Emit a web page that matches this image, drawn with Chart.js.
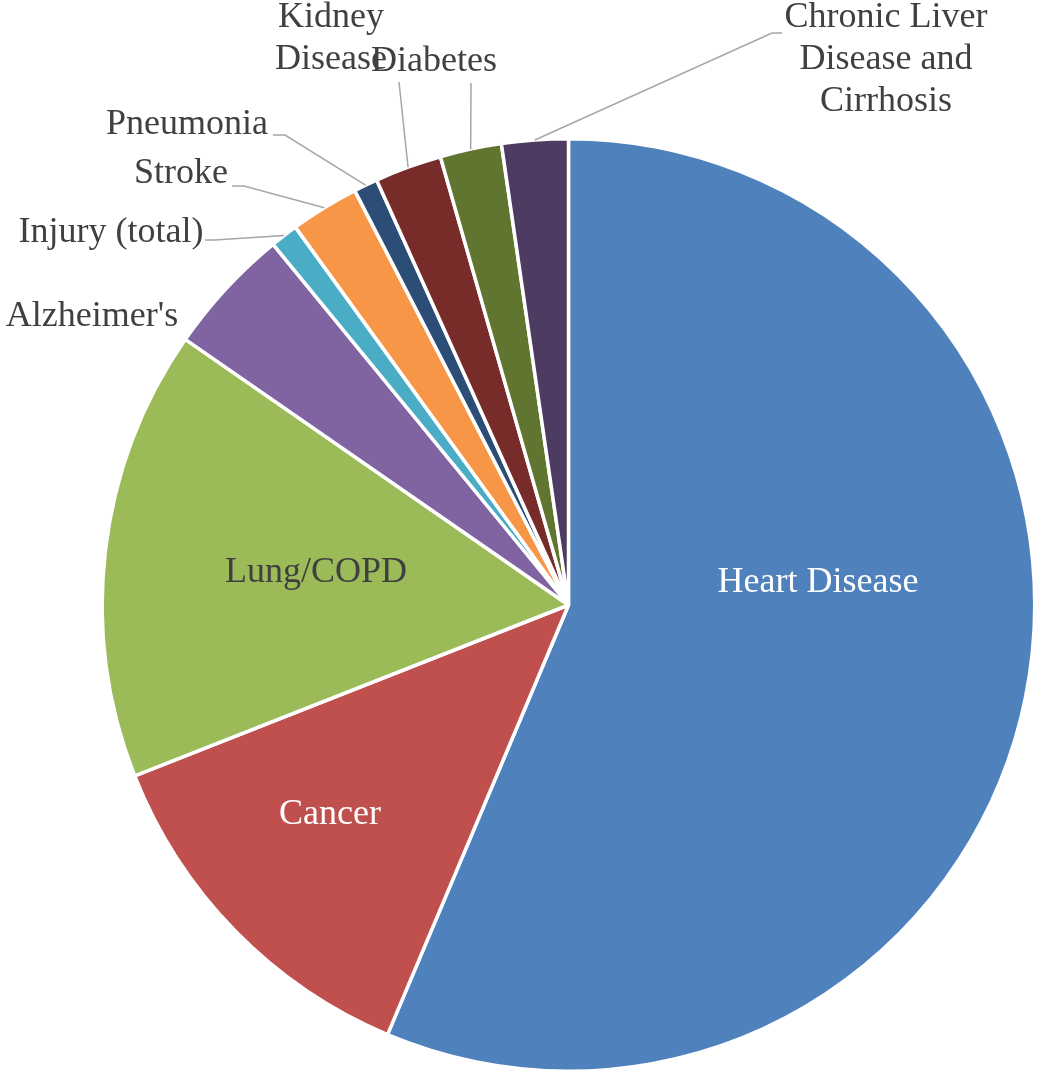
<!DOCTYPE html>
<html>
<head>
<meta charset="utf-8">
<script src="https://cdn.jsdelivr.net/npm/chart.js@4"></script>
<style>
  html, body { margin: 0; padding: 0; background: #ffffff; }
  #wrap { position: relative; width: 1037px; height: 1073px; }
</style>
</head>
<body>
<div id="wrap"><canvas id="pie"></canvas></div>
<script>
// Share of deaths by cause (percent).
const causes = [
    'Heart Disease', 'Cancer', 'Lung/COPD', "Alzheimer's", 'Injury (total)',
    'Stroke', 'Pneumonia', 'Kidney Disease', 'Diabetes', 'Chronic Liver Disease and Cirrhosis'
];
const shares = [56.34, 12.68, 15.62, 4.43, 0.96, 2.38, 0.83, 2.32, 2.13, 2.30];
const sliceColors = [
    '#4F81BD', '#C0504D', '#9BBB59', '#8064A2', '#4BACC6',
    '#F79646', '#2C4D75', '#772C2A', '#5F7530', '#4D3B62'
];

// Label placement (text centre, lines) and optional leader elbow for outside labels.
const labelLayout = [
    { lines: ['Heart Disease'], x: 818, y: 583, color: '#ffffff' },
    { lines: ['Cancer'], x: 330, y: 815, color: '#ffffff' },
    { lines: ['Lung/COPD'], x: 316, y: 573, color: '#404040' },
    { lines: ["Alzheimer's"], x: 92, y: 317, color: '#404040' },
    { lines: ['Injury (total)'], x: 111, y: 233, color: '#404040', elbow: [215, 240], end: 205 },
    { lines: ['Stroke'], x: 181, y: 174, color: '#404040', elbow: [244, 186], end: 232 },
    { lines: ['Pneumonia'], x: 187, y: 125, color: '#404040', elbow: [285, 135], end: 273 },
    { lines: ['Kidney', 'Disease'], x: 331, y: 18, color: '#404040', elbow: [399, 82] },
    { lines: ['Diabetes'], x: 434, y: 62, color: '#404040', elbow: [471, 83] },
    { lines: ['Chronic Liver', 'Disease and', 'Cirrhosis'], x: 886, y: 18, color: '#404040', elbow: [772, 33], end: 782 }
];

const FONT = '36px "Liberation Serif", "DejaVu Serif", serif';
const LINE_H = 42;

const sliceLabels = {
    id: 'sliceLabels',
    afterDatasetsDraw(chart) {
        const ctx = chart.ctx;
        const arcs = chart.getDatasetMeta(0).data;
        ctx.save();
        labelLayout.forEach((lab, i) => {
            const arc = arcs[i];
            if (lab.elbow && arc) {
                const p = arc.getProps(['x', 'y', 'startAngle', 'endAngle', 'outerRadius'], true);
                const mid = (p.startAngle + p.endAngle) / 2;
                const ax = p.x + Math.cos(mid) * p.outerRadius;
                const ay = p.y + Math.sin(mid) * p.outerRadius;
                ctx.strokeStyle = '#A6A6A6';
                ctx.lineWidth = 1.5;
                ctx.beginPath();
                ctx.moveTo(ax, ay);
                ctx.lineTo(lab.elbow[0], lab.elbow[1]);
                if (lab.end !== undefined) ctx.lineTo(lab.end, lab.elbow[1]);
                ctx.stroke();
            }
            ctx.font = FONT;
            ctx.fillStyle = lab.color;
            ctx.textAlign = 'center';
            ctx.textBaseline = 'middle';
            lab.lines.forEach((t, li) => ctx.fillText(t, lab.x, lab.y + li * LINE_H));
        });
        ctx.restore();
    }
};

new Chart(document.getElementById('pie').getContext('2d'), {
    type: 'pie',
    data: {
        labels: causes,
        datasets: [{
            data: shares,
            backgroundColor: sliceColors,
            borderColor: '#ffffff',
            borderWidth: 3.5,
            hoverOffset: 0
        }]
    },
    plugins: [sliceLabels],
    options: {
        responsive: true,
        maintainAspectRatio: false,
        animation: false,
        rotation: 0,
        layout: { padding: { left: 100, right: 0, top: 137, bottom: 0 } },
        plugins: {
            legend: { display: false },
            tooltip: { enabled: false }
        }
    }
});
</script>
</body>
</html>
